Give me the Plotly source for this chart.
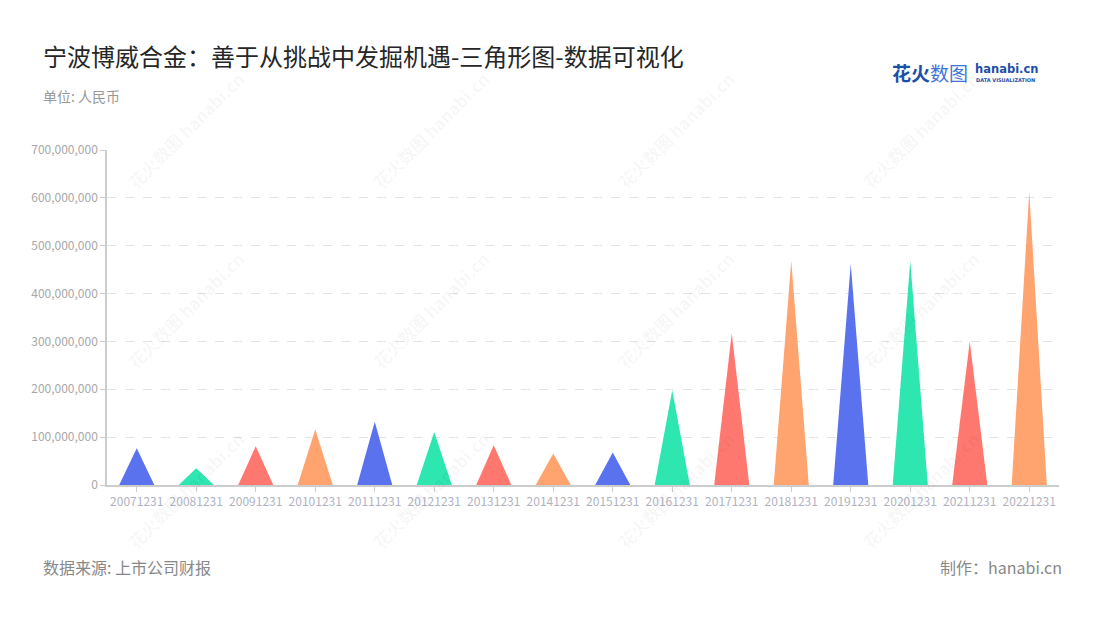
import plotly.graph_objects as go

# ---- data ----
categories = ["20071231", "20081231", "20091231", "20101231", "20111231", "20121231",
              "20131231", "20141231", "20151231", "20161231", "20171231", "20181231",
              "20191231", "20201231", "20211231", "20221231"]
values = [77e6, 35e6, 81e6, 116e6, 132e6, 111e6, 83e6, 66e6, 68e6, 198e6,
          317e6, 468e6, 462e6, 468e6, 300e6, 613e6]
palette = ["#5A72EE", "#2DE6B0", "#FF7870", "#FFA36F"]
y_ticks = [0, 100e6, 200e6, 300e6, 400e6, 500e6, 600e6, 700e6]

title_text = "宁波博威合金：善于从挑战中发掘机遇-三角形图-数据可视化"
unit_text = "单位: 人民币"
source_text = "数据来源: 上市公司财报"
maker_text = "制作：hanabi.cn"

FONT = "Noto Sans CJK SC"
W, H = 1100, 620
ML, MR, MT, MB = 107, 41, 150, 135
half_w = 0.295


def px(xp):
    return (xp - ML) / (W - ML - MR)


def py(yp):
    return (H - MB - yp) / (H - MT - MB)


fig = go.Figure()
for i, (cat, v) in enumerate(zip(categories, values)):
    fig.add_trace(go.Scatter(
        x=[i - half_w, i, i + half_w, i - half_w],
        y=[0, v, 0, 0],
        fill="toself", mode="lines",
        line=dict(width=0, color=palette[i % 4]),
        fillcolor=palette[i % 4],
        name=cat, hoveron="fills", showlegend=False,
    ))

annotations = []
# watermarks
for cx in [185, 430, 675, 920]:
    for cy in [130, 310, 490]:
        annotations.append(dict(
            x=px(cx), y=py(cy), xref="paper", yref="paper",
            text="<b>花火数图</b> <b>hanabi.cn</b>", showarrow=False, textangle=-45,
            font=dict(family=FONT, size=17, color="rgba(0,0,0,0.045)"),
            xanchor="center", yanchor="middle",
        ))

annotations += [
    dict(x=px(41), y=py(55), xref="paper", yref="paper", text=title_text,
         showarrow=False, xanchor="left", yanchor="middle",
         font=dict(family=FONT, size=24, color="#262626")),
    dict(x=px(41), y=py(96), xref="paper", yref="paper", text=unit_text,
         showarrow=False, xanchor="left", yanchor="middle",
         font=dict(family=FONT, size=14, color="#999999")),
    dict(x=px(41), y=py(567), xref="paper", yref="paper", text=source_text,
         showarrow=False, xanchor="left", yanchor="middle",
         font=dict(family=FONT, size=16, color="#888888")),
    dict(x=px(1064), y=py(567), xref="paper", yref="paper", text=maker_text,
         showarrow=False, xanchor="right", yanchor="middle",
         font=dict(family=FONT, size=16, color="#888888")),
    # logo
    dict(x=px(890), y=py(72), xref="paper", yref="paper",
         text="<b>花火</b><span style='color:#3f74d6'>数图</span>",
         showarrow=False, xanchor="left", yanchor="middle",
         font=dict(family=FONT, size=19, color="#1d4fa8")),
    dict(x=px(973), y=py(69), xref="paper", yref="paper",
         text="<b>hanabi.cn</b>", showarrow=False, xanchor="left", yanchor="middle",
         font=dict(family="DejaVu Sans", size=11.5, color="#1d4fa8")),
    dict(x=px(974), y=py(80), xref="paper", yref="paper",
         text="<b>DATA VISUALIZATION</b>", showarrow=False, xanchor="left", yanchor="middle",
         font=dict(family="DejaVu Sans", size=5, color="#1d4fa8")),
]

fig.update_layout(
    width=W, height=H,
    margin=dict(l=ML, r=MR, t=MT, b=MB),
    paper_bgcolor="white", plot_bgcolor="white",
    annotations=annotations,
    font=dict(family=FONT),
    xaxis=dict(
        range=[-0.5, len(categories) - 0.5],
        tickvals=list(range(len(categories))), ticktext=categories,
        showgrid=False, zeroline=False,
        showline=True, linecolor="#cccccc", linewidth=1.5,
        ticks="outside", ticklen=5, tickcolor="#cccccc",
        tickfont=dict(family=FONT, size=12, color="#b0b3bf"),
        fixedrange=True,
    ),
    yaxis=dict(
        range=[0, 700e6], tickvals=y_ticks, tickformat=",d",
        showgrid=True, gridcolor="#e3e3e3", griddash="dash", gridwidth=1,
        zeroline=False,
        showline=True, linecolor="#cccccc", linewidth=1.5,
        ticks="outside", ticklen=5, tickcolor="#cccccc",
        tickfont=dict(family=FONT, size=12, color="#a8a8a8"),
        fixedrange=True,
    ),
)

fig.write_html("out.html", config={"displayModeBar": False},
               post_script="document.body.style.margin='0px';")
